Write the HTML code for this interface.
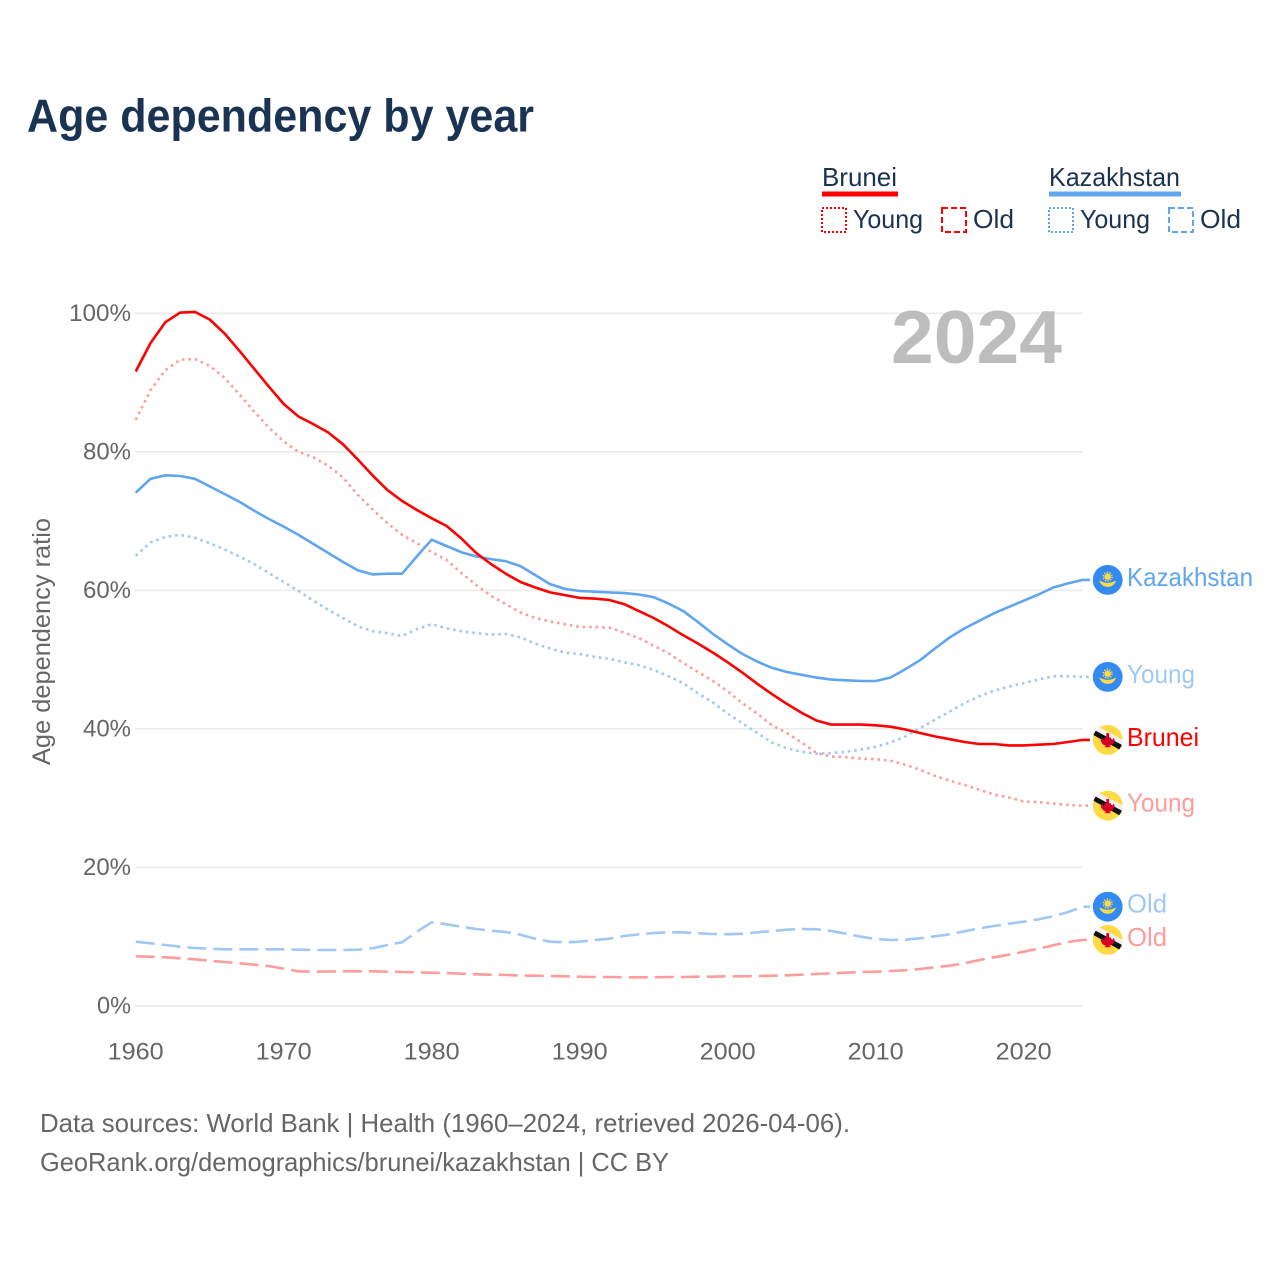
<!DOCTYPE html>
<html lang="en">
<head>
<meta charset="utf-8">
<title>Age dependency by year</title>
<style>
html,body{margin:0;padding:0;background:#fff;}
svg{display:block;}
text{font-family:"Liberation Sans",sans-serif;}
</style>
</head>
<body>
<svg id="chart" xmlns="http://www.w3.org/2000/svg" width="1280" height="1280" viewBox="0 0 1280 1280">
  <defs>
    <clipPath id="flag-clip"><circle cx="0" cy="0" r="15"></circle></clipPath>
    <symbol id="flag-kazakhstan" overflow="visible">
      <g clip-path="url(#flag-clip)">
        <circle r="15" fill="#338af3"></circle>
        <circle cx="0" cy="-3.2" r="3.3" fill="#ffda44"></circle>
        <circle cx="0" cy="-3.2" r="4.4" fill="none" stroke="#ffda44" stroke-width="1.4" stroke-dasharray="1.4 1.4"></circle>
        <path d="M-8.5,0.5 Q0,5.5 8.5,0.5 Q6,7 0,7 Q-6,7 -8.5,0.5Z" fill="#ffda44"></path>
      </g>
    </symbol>
    <symbol id="flag-brunei" overflow="visible">
      <g clip-path="url(#flag-clip)">
        <circle r="15" fill="#ffda44"></circle>
        <polygon points="-17,-11 -13,-15 19,2 16,7" fill="#f0f0f0"></polygon>
        <polygon points="-18,-7 -15.5,-11 17,6.5 14,11" fill="#111"></polygon>
        <path d="M-1.4,-6.8 L1.4,-6.8 L1.4,-2.4 L3.4,-2.4 L3.4,0.6 Q5,0 5.6,-2 L7,0 Q6,5.2 1.5,6 L3.5,7.4 L-3.5,7.4 L-1.5,6 Q-6,5.2 -7,0 L-5.6,-2 Q-5,0 -3.4,0.6 L-3.4,-2.4 L-1.4,-2.4Z" fill="#d80027"></path>
      </g>
    </symbol>
  </defs>

  <text x="27" y="131.5" font-size="46" font-weight="700" fill="#1a3353" textLength="507" lengthAdjust="spacingAndGlyphs">Age dependency by year</text>

  <g id="grid"></g>
  <g id="y-ticks"></g>
  <g id="x-ticks"></g>

  <text transform="translate(50,765) rotate(-90)" x="0" y="0" font-size="25" fill="#666666" textLength="247" lengthAdjust="spacingAndGlyphs">Age dependency ratio</text>

  <text x="891" y="363" font-size="75" font-weight="700" fill="#bdbdbd" textLength="171" lengthAdjust="spacingAndGlyphs">2024</text>

  <g id="series"></g>
  <g id="end-labels"></g>

  <g>
    <g>
      <text x="822" y="186" font-size="26" fill="#1a3353" textLength="75" lengthAdjust="spacingAndGlyphs">Brunei</text>
      <rect x="822" y="191.5" width="76" height="5" fill="#ff0000"></rect>
      <rect x="822" y="208" width="24" height="24" fill="none" stroke="#ff0000" stroke-width="2" stroke-dasharray="2 2"></rect>
      <text x="853" y="228" font-size="26" fill="#1a3353" textLength="70" lengthAdjust="spacingAndGlyphs">Young</text>
      <rect x="942" y="208" width="24" height="24" fill="none" stroke="#ff0000" stroke-width="2" stroke-dasharray="6 3"></rect>
      <text x="973" y="228" font-size="26" fill="#1a3353" textLength="41" lengthAdjust="spacingAndGlyphs">Old</text>
    </g>
    <g>
      <text x="1049" y="186" font-size="26" fill="#1a3353" textLength="131" lengthAdjust="spacingAndGlyphs">Kazakhstan</text>
      <rect x="1049" y="191.5" width="132" height="5" fill="#60a5ef"></rect>
      <rect x="1049" y="208" width="24" height="24" fill="none" stroke="#60a5ef" stroke-width="2" stroke-dasharray="2 2"></rect>
      <text x="1080" y="228" font-size="26" fill="#1a3353" textLength="70" lengthAdjust="spacingAndGlyphs">Young</text>
      <rect x="1169" y="208" width="24" height="24" fill="none" stroke="#60a5ef" stroke-width="2" stroke-dasharray="6 3"></rect>
      <text x="1200" y="228" font-size="26" fill="#1a3353" textLength="41" lengthAdjust="spacingAndGlyphs">Old</text>
    </g>
  </g>

  <text x="40" y="1132" font-size="26" fill="#666666" textLength="810" lengthAdjust="spacingAndGlyphs">Data sources: World Bank | Health (1960–2024, retrieved 2026-04-06).</text>
  <text x="40" y="1171" font-size="26" fill="#666666" textLength="629" lengthAdjust="spacingAndGlyphs">GeoRank.org/demographics/brunei/kazakhstan | CC BY</text>
</svg>

<script>
const startYear = 1960;
const yTickValues = [0, 20, 40, 60, 80, 100];
const yTickLabels = ['0%', '20%', '40%', '60%', '80%', '100%'];
const xTickYears = [1960, 1970, 1980, 1990, 2000, 2010, 2020];
const xTickLabels = ['1960', '1970', '1980', '1990', '2000', '2010', '2020'];

const kazakhstanTotal = [74.1,76.1,76.6,76.5,76.1,75.0,73.9,72.8,71.5,70.3,69.2,68.0,66.7,65.4,64.1,62.9,62.3,62.4,62.4,64.9,67.3,66.4,65.5,64.9,64.5,64.2,63.5,62.2,60.9,60.2,59.9,59.8,59.7,59.6,59.4,59.0,58.1,57.0,55.4,53.7,52.2,50.8,49.7,48.8,48.2,47.8,47.4,47.1,47.0,46.9,46.9,47.4,48.6,49.9,51.6,53.2,54.5,55.6,56.7,57.6,58.5,59.4,60.4,61.0,61.5];
const kazakhstanYoung = [65.0,66.9,67.7,68.0,67.6,66.8,65.9,64.9,63.8,62.5,61.2,59.9,58.5,57.2,56.0,54.8,54.1,53.8,53.4,54.4,55.1,54.5,54.1,53.8,53.6,53.7,53.2,52.3,51.6,51.0,50.8,50.4,50.1,49.6,49.2,48.5,47.6,46.6,45.1,43.8,42.2,40.8,39.4,38.0,37.2,36.7,36.4,36.5,36.7,37.0,37.4,38.0,38.9,40.1,41.3,42.5,43.7,44.7,45.5,46.1,46.6,47.1,47.6,47.6,47.5];
const kazakhstanOld = [9.26,9.03,8.78,8.53,8.35,8.25,8.16,8.16,8.16,8.16,8.16,8.10,8.06,8.06,8.06,8.10,8.30,8.78,9.17,10.7,12.06,11.77,11.42,11.09,10.84,10.66,10.27,9.69,9.26,9.17,9.26,9.50,9.69,10.08,10.32,10.51,10.61,10.61,10.47,10.37,10.32,10.41,10.61,10.80,10.99,11.09,11.05,10.80,10.41,9.98,9.65,9.50,9.55,9.75,10.04,10.32,10.76,11.19,11.52,11.86,12.14,12.49,12.92,13.55,14.31];
const bruneiTotal = [91.6,95.7,98.7,100.1,100.2,99.1,97.1,94.6,92.0,89.4,86.9,85.1,84.0,82.8,81.1,78.9,76.6,74.5,72.9,71.6,70.4,69.3,67.5,65.4,63.8,62.4,61.2,60.4,59.7,59.3,58.9,58.8,58.6,58.0,57.0,56.0,54.8,53.5,52.3,51.0,49.6,48.1,46.5,45.0,43.6,42.3,41.2,40.6,40.6,40.6,40.5,40.3,39.9,39.4,38.9,38.5,38.1,37.8,37.8,37.6,37.6,37.7,37.8,38.1,38.4];
const bruneiYoung = [84.6,88.9,91.8,93.3,93.4,92.4,90.7,88.3,85.8,83.5,81.5,80.0,79.2,78.0,76.3,73.8,71.7,69.7,68.0,66.8,65.5,64.4,62.5,60.8,59.2,58.0,56.8,56.0,55.5,55.1,54.7,54.7,54.6,53.9,53.1,52.0,50.9,49.5,48.2,46.9,45.4,43.7,42.2,40.5,39.4,38.0,36.5,36.0,35.9,35.7,35.6,35.4,34.8,34.1,33.2,32.5,31.9,31.2,30.5,30.1,29.5,29.4,29.2,29.0,28.9];
const bruneiOld = [7.15,7.09,7.00,6.86,6.71,6.51,6.32,6.14,5.94,5.75,5.36,4.98,4.92,4.95,4.98,4.98,4.98,4.92,4.88,4.84,4.78,4.74,4.64,4.55,4.49,4.45,4.38,4.35,4.30,4.26,4.20,4.16,4.16,4.12,4.12,4.12,4.16,4.16,4.20,4.20,4.26,4.26,4.30,4.35,4.40,4.49,4.59,4.69,4.78,4.88,4.92,5.03,5.13,5.31,5.56,5.79,6.14,6.61,7.00,7.38,7.81,8.25,8.74,9.21,9.52];

const SVGNS = 'http://www.w3.org/2000/svg';
function xScale(year) { return 135.7 + (year - 1960) * 14.8; }
function yScale(value) { return 1005.8 - value * 6.925; }
function mk(tag, attrs) {
  const el = document.createElementNS(SVGNS, tag);
  for (const k in attrs) el.setAttribute(k, attrs[k]);
  return el;
}

const gridG = document.getElementById('grid');
const yG = document.getElementById('y-ticks');
yTickValues.forEach(function (v, i) {
  const line = mk('line', { x1: 135, x2: 1082.5, y1: yScale(v), y2: yScale(v), stroke: '#ececec', 'stroke-width': 1.6 });
  
  
  gridG.appendChild(line);
  const label = yTickLabels[i];
  const w = 14 * label.length + 6;
  const t = mk('text', { x: 131 - w, y: yScale(v) + 7.5, 'font-size': 24, fill: '#666666', textLength: w, lengthAdjust: 'spacingAndGlyphs' });
  t.textContent = label;
  
  
  yG.appendChild(t);
});

const xG = document.getElementById('x-ticks');
xTickYears.forEach(function (yr, i) {
  const t = mk('text', { x: xScale(yr) - 28, y: 1059.5, 'font-size': 24, fill: '#666666', textLength: 56, lengthAdjust: 'spacingAndGlyphs' });
  t.textContent = xTickLabels[i];
  
  
  xG.appendChild(t);
});

const RED = '#ff0000', BLUE = '#60a5ef', LRED = '#ff9c9c', LBLUE = '#a0c8f5';
const DOT = '2.6 3.9', DASH = '19 7';
const seriesList = [
  { name: 'kazakhstan-old', values: kazakhstanOld, color: LBLUE, dash: DASH, label: 'Old', flag: 'kazakhstan', w: 40 },
  { name: 'brunei-old', values: bruneiOld, color: LRED, dash: DASH, label: 'Old', flag: 'brunei', w: 40 },
  { name: 'kazakhstan-young', values: kazakhstanYoung, color: LBLUE, dash: DOT, label: 'Young', flag: 'kazakhstan', w: 68 },
  { name: 'brunei-young', values: bruneiYoung, color: LRED, dash: DOT, label: 'Young', flag: 'brunei', w: 68 },
  { name: 'kazakhstan-total', values: kazakhstanTotal, color: BLUE, dash: '', label: 'Kazakhstan', flag: 'kazakhstan', w: 126 },
  { name: 'brunei-total', values: bruneiTotal, color: RED, dash: '', label: 'Brunei', flag: 'brunei', w: 72 }
];

const seriesG = document.getElementById('series');
const labelsG = document.getElementById('end-labels');
seriesList.forEach(function (s) {
  const pts = s.values.map(function (v, i) { return xScale(startYear + i).toFixed(1) + ',' + yScale(v).toFixed(1); });
  const lastY = yScale(s.values[s.values.length - 1]);
  const lastX = xScale(startYear + s.values.length - 1);
  const attrs = { points: pts.join(' ') + ' ' + (lastX + 7) + ',' + lastY.toFixed(1), fill: 'none', stroke: s.color, 'stroke-width': 2.6, 'stroke-linejoin': 'round' };
  if (s.dash) attrs['stroke-dasharray'] = s.dash;
  const line = mk('polyline', attrs);
  
  
  seriesG.appendChild(line);

  const flag = mk('use', { href: '#flag-' + s.flag, x: 1107.7, y: lastY });
  
  
  labelsG.appendChild(flag);

  const t = mk('text', { x: 1127, y: lastY + 6, 'font-size': 26, fill: s.color, textLength: s.w, lengthAdjust: 'spacingAndGlyphs' });
  t.textContent = s.label;
  
  
  labelsG.appendChild(t);
});
</script>
</body>
</html>
